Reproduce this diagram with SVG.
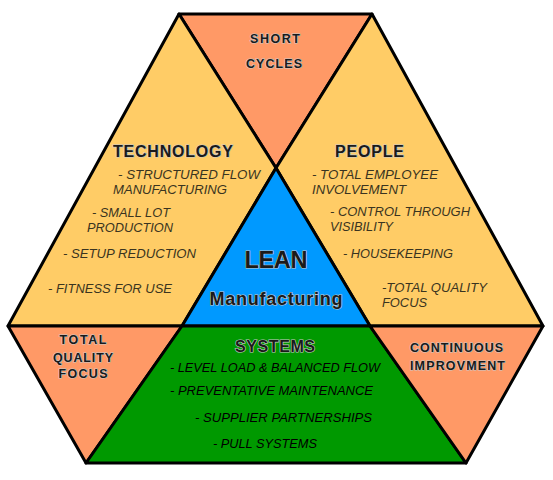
<svg xmlns="http://www.w3.org/2000/svg" width="553" height="480" viewBox="0 0 553 480">
<style>
  .shape { stroke: #000; stroke-width: 3; stroke-linejoin: round; }
  .yellow { fill: #FFCC66; }
  .orange { fill: #FF9966; }
  .blue { fill: #0099FF; }
  .green { fill: #009900; }
  .title { font-family: "Liberation Sans", Arial, sans-serif; font-weight: bold; fill: #1a1a1a; stroke: #c8c8c8; stroke-width: 1.2; paint-order: stroke; }
  .item { font-family: "Liberation Sans", Arial, sans-serif; font-style: italic; font-size: 13.5px; fill: #3a3420; }
  .gitem { font-family: "Liberation Sans", Arial, sans-serif; font-style: italic; font-size: 13.5px; fill: #000; }
</style>
<rect width="553" height="480" fill="#fff"/>

<g id="short-cycles">
  <polygon class="shape orange" points="179,14 372,14 276,168"/>
  <text class="title" font-size="12.5" x="275" y="43" text-anchor="middle" textLength="50">SHORT</text>
  <text class="title" font-size="12.5" x="274" y="68" text-anchor="middle" textLength="56">CYCLES</text>
</g>

<g id="technology">
  <polygon class="shape yellow" points="179,14 276,168 182,326 8,326"/>
  <text class="title" font-size="16" x="113" y="157" textLength="120">TECHNOLOGY</text>
  <text class="item" x="118" y="179" textLength="142" lengthAdjust="spacingAndGlyphs">- STRUCTURED  FLOW</text>
  <text class="item" x="113" y="194" textLength="114" lengthAdjust="spacingAndGlyphs">MANUFACTURING</text>
  <text class="item" x="92" y="217" textLength="78" lengthAdjust="spacingAndGlyphs">- SMALL LOT</text>
  <text class="item" x="87" y="232" textLength="86" lengthAdjust="spacingAndGlyphs">PRODUCTION</text>
  <text class="item" x="63" y="258" textLength="133" lengthAdjust="spacingAndGlyphs">- SETUP REDUCTION</text>
  <text class="item" x="48" y="293" textLength="124" lengthAdjust="spacingAndGlyphs">- FITNESS FOR USE</text>
</g>

<g id="people">
  <polygon class="shape yellow" points="372,14 543,326 370,326 276,168"/>
  <text class="title" font-size="16" x="335" y="157" textLength="69">PEOPLE</text>
  <text class="item" x="312" y="179" textLength="126" lengthAdjust="spacingAndGlyphs">- TOTAL EMPLOYEE</text>
  <text class="item" x="312" y="194" textLength="94" lengthAdjust="spacingAndGlyphs">INVOLVEMENT</text>
  <text class="item" x="330" y="216" textLength="140" lengthAdjust="spacingAndGlyphs">- CONTROL THROUGH</text>
  <text class="item" x="330" y="231" textLength="63" lengthAdjust="spacingAndGlyphs">VISIBILITY</text>
  <text class="item" x="343" y="258" textLength="110" lengthAdjust="spacingAndGlyphs">- HOUSEKEEPING</text>
  <text class="item" x="382" y="292" textLength="105" lengthAdjust="spacingAndGlyphs">-TOTAL QUALITY</text>
  <text class="item" x="382" y="307" textLength="45" lengthAdjust="spacingAndGlyphs">FOCUS</text>
</g>

<g id="lean">
  <polygon class="shape blue" points="276,168 370,326 182,326"/>
  <text class="title" font-size="23.5" x="276" y="268" text-anchor="middle" textLength="63">LEAN</text>
  <text class="title" font-size="18" x="276" y="305" text-anchor="middle" textLength="133">Manufacturing</text>
</g>

<g id="total-quality-focus">
  <polygon class="shape orange" points="8,326 182,326 86,463"/>
  <text class="title" font-size="12.5" x="83" y="344" text-anchor="middle" textLength="47">TOTAL</text>
  <text class="title" font-size="12.5" x="83" y="362" text-anchor="middle" textLength="60">QUALITY</text>
  <text class="title" font-size="12.5" x="83" y="378" text-anchor="middle" textLength="49">FOCUS</text>
</g>

<g id="systems">
  <polygon class="shape green" points="182,326 370,326 466,463 86,463"/>
  <text class="title" font-size="16" x="235" y="352" textLength="80">SYSTEMS</text>
  <text class="gitem" x="170" y="372" textLength="210" lengthAdjust="spacingAndGlyphs">- LEVEL LOAD &amp; BALANCED FLOW</text>
  <text class="gitem" x="170" y="395" textLength="203" lengthAdjust="spacingAndGlyphs">- PREVENTATIVE MAINTENANCE</text>
  <text class="gitem" x="195" y="422" textLength="177" lengthAdjust="spacingAndGlyphs">- SUPPLIER PARTNERSHIPS</text>
  <text class="gitem" x="213" y="448" textLength="104" lengthAdjust="spacingAndGlyphs">- PULL SYSTEMS</text>
</g>

<g id="continuous-improvement">
  <polygon class="shape orange" points="370,326 543,326 466,463"/>
  <text class="title" font-size="12.5" x="410" y="352" textLength="93">CONTINUOUS</text>
  <text class="title" font-size="12.5" x="410" y="370" textLength="95">IMPROVMENT</text>
</g>

<g id="connectors"></g>
</svg>
